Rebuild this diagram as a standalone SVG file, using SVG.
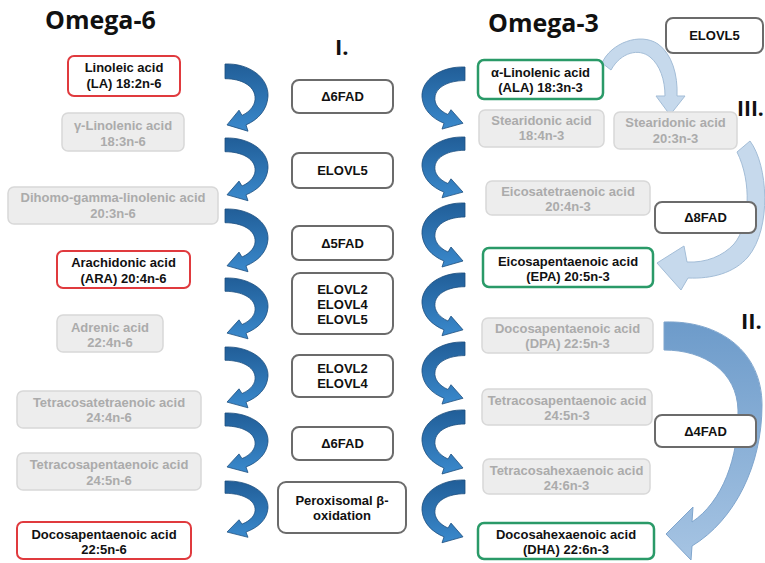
<svg xmlns="http://www.w3.org/2000/svg" width="765" height="563" viewBox="0 0 765 563">
<style>
.t{font-family:"Liberation Sans",Arial,sans-serif;font-weight:bold;font-size:13px;text-anchor:middle;fill:#111}
.g{fill:#ababab}
.title{font-family:"Open Sans","Liberation Sans",sans-serif;font-weight:bold;font-size:25px;fill:#111}
.rom{font-family:"Open Sans","Liberation Sans",sans-serif;font-weight:bold;font-size:22px;fill:#111}
.red{fill:#fff;stroke:#e03a3e;stroke-width:2}
.grn{fill:#fff;stroke:#2a9a68;stroke-width:2.5}
.gry{fill:#ededed;stroke:#d8d8d8;stroke-width:1.5}
.enz{fill:#fff;stroke:#6b6b6b;stroke-width:2}
.ba{fill:url(#bg);stroke:#1c4e7e;stroke-width:0.8}
.la{fill:#c6d9ec;stroke:#a3bdd7;stroke-width:1}
</style>
<defs>
<linearGradient id="bg" x1="0" y1="0" x2="0" y2="1">
<stop offset="0" stop-color="#215e98"/>
<stop offset="1" stop-color="#3a89cc"/>
</linearGradient>
<linearGradient id="g2" x1="0" y1="0" x2="0" y2="1">
<stop offset="0" stop-color="#6d9bca"/>
<stop offset="1" stop-color="#a6c4e3"/>
</linearGradient>
<path id="cv" d="M0,0 C24,-1 44,13 43,31 C42,44 33,53 21,58 L23,64 L2,58 L14,44 L17,49 C26,45 31,38 30,31 C29,21 17,14 0,14 Z"/>
</defs>
<rect width="765" height="563" fill="#fff"/>

<text class="title" x="45" y="29">Omega-6</text>
<text class="title" x="488" y="32">Omega-3</text>
<text class="rom" x="335" y="55">I.</text>
<text class="rom" x="737" y="116" style="font-size:21px">III.</text>
<text class="rom" x="741" y="329">II.</text>

<g id="connectors">
<g class="ba">
<use href="#cv" transform="translate(225,64) scale(1,1.05)"/>
<use href="#cv" transform="translate(225,138) scale(1,0.98)"/>
<use href="#cv" transform="translate(225,209) scale(1,0.98)"/>
<use href="#cv" transform="translate(225,278) scale(1,0.95)"/>
<use href="#cv" transform="translate(225,347) scale(1,0.95)"/>
<use href="#cv" transform="translate(225,413) scale(1,0.93)"/>
<use href="#cv" transform="translate(225,481) scale(1,0.88)"/>
<use href="#cv" transform="translate(465,67) scale(-1,0.97)"/>
<use href="#cv" transform="translate(465,137) scale(-1,0.95)"/>
<use href="#cv" transform="translate(465,203) scale(-1,1.0)"/>
<use href="#cv" transform="translate(465,273) scale(-1,0.98)"/>
<use href="#cv" transform="translate(465,342) scale(-1,0.97)"/>
<use href="#cv" transform="translate(465,410) scale(-1,1.0)"/>
<use href="#cv" transform="translate(465,480) scale(-1,0.98)"/>
</g>
<path class="la" d="M602,63 C611,43 640,32 658,44 C672,54 678,75 677,96 L685,96 L670,115 L656,96 L665,96 C665,80 660,65 650,57 C639,48 621,52 611,70 Z"/>
<path class="la" d="M750,141 C768,165 772,228 748,257 C734,273 712,279 688,278 L681,290 L657,263 L684,246 L687,262 C706,263 723,256 734,244 C750,225 752,182 737,152 Z"/>
<path fill="url(#g2)" stroke="#7fa5cd" stroke-width="1" d="M664,322 C720,320 762,352 762,405 C762,465 735,520 692,546 L691,560 L666,534 L693,507 L692,522 C722,502 739,458 738,410 C737,372 705,350 664,350 Z"/>
</g>

<g id="n6_la"><rect class="red" x="68" y="56" width="112" height="40" rx="6"/><text class="t" x="124" y="72">Linoleic acid</text><text class="t" x="124" y="88">(LA) 18:2n-6</text></g>
<g id="n6_gla"><rect class="gry" x="62" y="113" width="122" height="38" rx="6"/><text class="t g" x="123" y="130">γ-Linolenic acid</text><text class="t g" x="123" y="146">18:3n-6</text></g>
<g id="n6_dgla"><rect class="gry" x="8" y="187" width="210" height="37" rx="6"/><text class="t g" x="113" y="202">Dihomo-gamma-linolenic acid</text><text class="t g" x="113" y="218">20:3n-6</text></g>
<g id="n6_ara"><rect class="red" x="57" y="251" width="133" height="37" rx="6"/><text class="t" x="123.5" y="267">Arachidonic acid</text><text class="t" x="123.5" y="283">(ARA) 20:4n-6</text></g>
<g id="n6_adr"><rect class="gry" x="57" y="315" width="106" height="37" rx="6"/><text class="t g" x="110" y="332">Adrenic acid</text><text class="t g" x="110" y="347">22:4n-6</text></g>
<g id="n6_tta"><rect class="gry" x="17" y="391" width="184" height="37" rx="6"/><text class="t g" x="109" y="407">Tetracosatetraenoic acid</text><text class="t g" x="109" y="422">24:4n-6</text></g>
<g id="n6_tpa"><rect class="gry" x="17" y="453" width="184" height="37" rx="6"/><text class="t g" x="109" y="469">Tetracosapentaenoic acid</text><text class="t g" x="109" y="485">24:5n-6</text></g>
<g id="n6_dpa"><rect class="red" x="17" y="522" width="174" height="37" rx="6"/><text class="t" x="104" y="539">Docosapentaenoic acid</text><text class="t" x="104" y="554">22:5n-6</text></g>

<g id="e_d6a"><rect class="enz" x="292" y="80" width="101" height="33" rx="7"/><text class="t" x="342.5" y="101">Δ6FAD</text></g>
<g id="e_elovl5"><rect class="enz" x="292" y="153" width="101" height="35" rx="7"/><text class="t" x="342.5" y="175">ELOVL5</text></g>
<g id="e_d5"><rect class="enz" x="292" y="226" width="101" height="34" rx="7"/><text class="t" x="342.5" y="248">Δ5FAD</text></g>
<g id="e_e245"><rect class="enz" x="292" y="273" width="101" height="61" rx="8"/><text class="t" x="342.5" y="294">ELOVL2</text><text class="t" x="342.5" y="309">ELOVL4</text><text class="t" x="342.5" y="324">ELOVL5</text></g>
<g id="e_e24"><rect class="enz" x="292" y="355" width="101" height="42" rx="7"/><text class="t" x="342.5" y="373">ELOVL2</text><text class="t" x="342.5" y="388">ELOVL4</text></g>
<g id="e_d6b"><rect class="enz" x="292" y="427" width="101" height="33" rx="7"/><text class="t" x="342.5" y="448">Δ6FAD</text></g>
<g id="e_perox"><rect class="enz" x="278" y="482" width="128" height="51" rx="8"/><text class="t" x="342" y="505">Peroxisomal β-</text><text class="t" x="342" y="520">oxidation</text></g>

<g id="n3_ala"><rect class="grn" x="478" y="60" width="125" height="39" rx="6"/><text class="t" x="540.5" y="77">α-Linolenic acid</text><text class="t" x="540.5" y="92">(ALA) 18:3n-3</text></g>
<g id="n3_sda"><rect class="gry" x="479" y="110" width="125" height="37" rx="6"/><text class="t g" x="541.5" y="125">Stearidonic acid</text><text class="t g" x="541.5" y="140">18:4n-3</text></g>
<g id="n3_sda2"><rect class="gry" x="614" y="112" width="123" height="37" rx="6"/><text class="t g" x="675.5" y="127">Stearidonic acid</text><text class="t g" x="675.5" y="143">20:3n-3</text></g>
<g id="e_elovl5r"><rect class="enz" x="666" y="18" width="97" height="35" rx="7"/><text class="t" x="714.5" y="40">ELOVL5</text></g>
<g id="n3_eta"><rect class="gry" x="486" y="181" width="164" height="34" rx="6"/><text class="t g" x="568" y="196">Eicosatetraenoic acid</text><text class="t g" x="568" y="211">20:4n-3</text></g>
<g id="e_d8"><rect class="enz" x="655" y="202" width="101" height="31" rx="7"/><text class="t" x="705.5" y="222">Δ8FAD</text></g>
<g id="n3_epa"><rect class="grn" x="483" y="248" width="170" height="39" rx="6"/><text class="t" x="568" y="266">Eicosapentaenoic acid</text><text class="t" x="568" y="281">(EPA) 20:5n-3</text></g>
<g id="n3_dpa"><rect class="gry" x="482" y="318" width="171" height="35" rx="6"/><text class="t g" x="567.5" y="333">Docosapentaenoic acid</text><text class="t g" x="567.5" y="348">(DPA) 22:5n-3</text></g>
<g id="n3_tpa"><rect class="gry" x="482" y="389" width="170" height="36" rx="6"/><text class="t g" x="567" y="405">Tetracosapentaenoic acid</text><text class="t g" x="567" y="420">24:5n-3</text></g>
<g id="e_d4"><rect class="enz" x="655" y="415" width="101" height="32" rx="7"/><text class="t" x="705.5" y="436">Δ4FAD</text></g>
<g id="n3_tha"><rect class="gry" x="483" y="459" width="167" height="35" rx="6"/><text class="t g" x="566.5" y="475">Tetracosahexaenoic acid</text><text class="t g" x="566.5" y="490">24:6n-3</text></g>
<g id="n3_dha"><rect class="grn" x="478" y="523" width="176" height="36" rx="6"/><text class="t" x="566" y="539">Docosahexaenoic acid</text><text class="t" x="566" y="554">(DHA) 22:6n-3</text></g>
</svg>
